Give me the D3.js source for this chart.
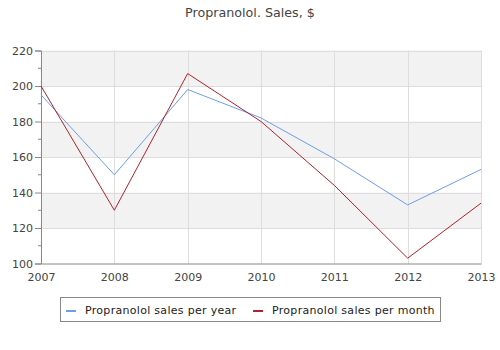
<!DOCTYPE html>
<html><head><meta charset="utf-8">
<script src="https://cdn.jsdelivr.net/npm/d3@7"></script>
<style>body{margin:0;background:#fff}svg{display:block}text{font-family:"DejaVu Sans",sans-serif}</style>
</head><body><svg id="c" width="500" height="350"></svg>
<script>
const years = [2007, 2008, 2009, 2010, 2011, 2012, 2013];
const perYear = [195, 150, 198, 182, 159, 133, 153];
const perMonth = [200, 130, 207, 180, 144, 103, 134];
const yTicks = [100, 120, 140, 160, 180, 200, 220];
const seriesNames = ["Propranolol sales per year", "Propranolol sales per month"];
const colors = ["#6f9ced", "#b2222a"];
const title = "Propranolol. Sales, $";

const svg = d3.select("#c");
const L = 41, R = 481, T = 50.5, B = 263.5;
const x = d3.scaleLinear().domain([2007, 2013]).range([L, R]);
const y = d3.scaleLinear().domain([100, 220]).range([B, T]);

// bands
for (let i = 0; i < yTicks.length - 1; i++) {
  if (i % 2 === 1) {
    svg.append("rect").attr("x", L).attr("width", R - L)
      .attr("y", y(yTicks[i + 1])).attr("height", y(yTicks[i]) - y(yTicks[i + 1]))
      .attr("fill", "#f2f2f2");
  }
}
// grid
svg.append("g").selectAll("line").data(yTicks.slice(1)).join("line")
  .attr("x1", L).attr("x2", R).attr("y1", d => Math.round(y(d)) + 0.5).attr("y2", d => Math.round(y(d)) + 0.5)
  .attr("stroke", "#dddddd");
svg.append("g").selectAll("line").data(years.slice(1)).join("line")
  .attr("y1", T).attr("y2", B).attr("x1", d => Math.round(x(d)) + 0.5).attr("x2", d => Math.round(x(d)) + 0.5)
  .attr("stroke", "#dddddd");

// axes
const yAxis = d3.axisLeft(y).tickValues(yTicks).tickSize(6).tickPadding(2).tickFormat(d3.format("d"));
const gy = svg.append("g").attr("transform", `translate(${L},0)`).call(yAxis);
const minor = d3.range(110, 220, 20);
gy.selectAll(".minor").data(minor).join("line").attr("class", "minor")
  .attr("x1", -3).attr("x2", 0).attr("y1", d => y(d)).attr("y2", d => y(d)).attr("stroke", "#888");
const xAxis = d3.axisBottom(x).tickValues(years).tickSize(0).tickPadding(10).tickFormat(d3.format("d"));
const gx = svg.append("g").attr("transform", `translate(0,${B})`).call(xAxis);
[gx, gy].forEach(g => {
  g.select(".domain").attr("stroke", "#888");
  g.selectAll(".tick line").attr("stroke", "#888");
  g.selectAll("text").attr("fill", "#444").style("font-size", "11px").style("font-family", "DejaVu Sans");
});

// lines
const line = d3.line().x((d, i) => x(years[i])).y(d => y(d));
[perYear, perMonth].forEach((s, k) => {
  svg.append("path").datum(s).attr("d", line).attr("fill", "none")
    .attr("stroke", colors[k]).attr("stroke-width", 1);
});

// title
svg.append("text").attr("x", 250).attr("y", 17).attr("text-anchor", "middle")
  .attr("fill", "#444").style("font-size", "12.7px").text(title);

// legend
svg.append("rect").attr("x", 60.5).attr("y", 297.5).attr("width", 380).attr("height", 24)
  .attr("fill", "#fff").attr("stroke", "#888");
const lx = [66, 253];
seriesNames.forEach((n, k) => {
  svg.append("rect").attr("x", lx[k]).attr("y", 310).attr("width", 10).attr("height", 2).attr("fill", colors[k]);
  svg.append("text").attr("x", lx[k] + 19).attr("y", 314).attr("fill", "#222")
    .style("font-size", "11px").style("letter-spacing", "0.3px").text(n);
});
</script></body></html>
